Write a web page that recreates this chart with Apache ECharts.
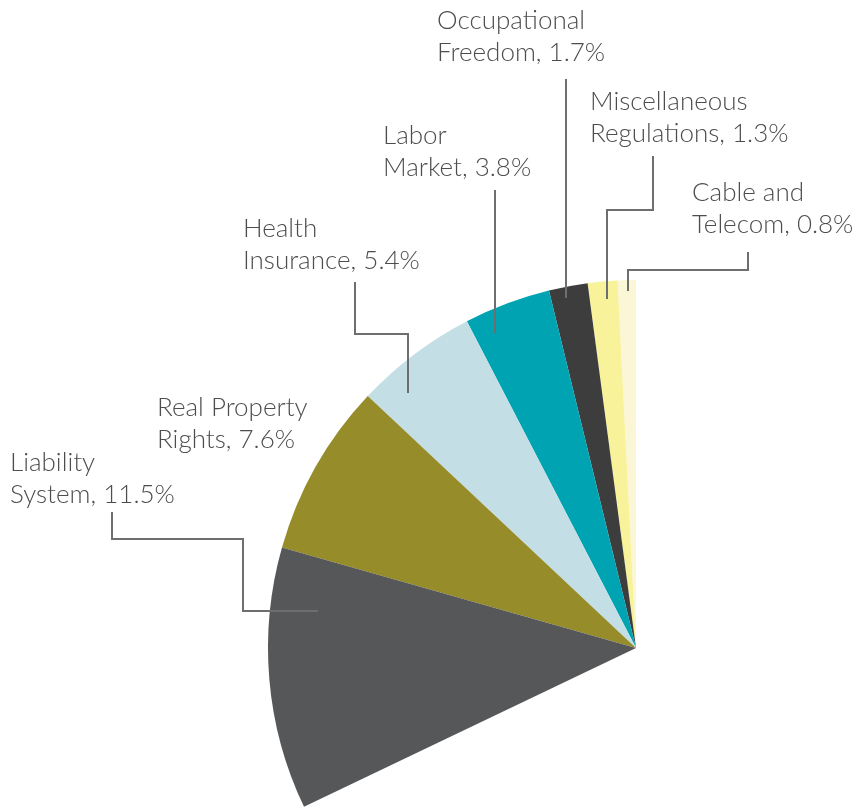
<!DOCTYPE html>
<html>
<head>
<meta charset="utf-8">
<script src="https://cdn.jsdelivr.net/npm/echarts@6/dist/echarts.min.js"></script>
<style>
html,body{margin:0;padding:0;background:#fff;}
#chart{width:866px;height:811px;}
</style>
</head>
<body>
<div id="chart"></div>
<script>
// ---- data ----
const categories = ['Cable and Telecom', 'Miscellaneous Regulations', 'Occupational Freedom', 'Labor Market', 'Health Insurance', 'Real Property Rights', 'Liability System'];
const labelLines1 = ['Cable and', 'Miscellaneous', 'Occupational', 'Labor', 'Health', 'Real Property', 'Liability'];
const labelLines2 = ['Telecom', 'Regulations', 'Freedom', 'Market', 'Insurance', 'Rights', 'System'];
const values = [0.8, 1.3, 1.7, 3.8, 5.4, 7.6, 11.5];
const colors = ['#FBF7D6', '#F8F29A', '#3D3D3E', '#00A3B1', '#C3DFE5', '#968C2A', '#555759'];

// ---- layout (label boxes and leader-line paths, pixels) ----
const labelPos = [
  [692, 177], [590, 86], [437, 5], [383, 120], [243, 213], [157, 392], [10, 447]
];
const leaderPaths = [
  [[748, 252], [748, 270], [628, 270], [628, 291]],
  [[653, 156], [653, 210], [607, 210], [607, 299]],
  [[566, 79], [566, 298]],
  [[495, 190], [495, 333]],
  [[355, 282], [355, 334], [408, 334], [408, 393]],
  null,
  [[112, 512], [112, 539], [243, 539], [243, 611], [318, 611]]
];

const total = 100;
const rest = +(total - values.reduce((a, b) => a + b, 0)).toFixed(1);

const pieData = categories.map((c, i) => ({
  name: c,
  value: values[i],
  itemStyle: { color: colors[i] },
  label: { formatter: labelLines1[i] + '\n' + labelLines2[i] + ', ' + values[i] + '%' }
}));
pieData.push({
  name: 'rest',
  value: rest,
  itemStyle: { color: 'rgba(0,0,0,0)' },
  label: { show: false },
  tooltip: { show: false },
  silent: true
});

const leaderGraphics = leaderPaths.filter(p => p).map(p => ({
  type: 'polyline',
  z: 100,
  silent: true,
  shape: { points: p },
  style: { stroke: '#6D6E70', lineWidth: 2, fill: null }
}));

const chart = echarts.init(document.getElementById('chart'), null, { renderer: 'canvas' });
chart.setOption({
  animation: false,
  graphic: leaderGraphics,
  series: [{
    type: 'pie',
    center: [636, 648],
    radius: [0, 368],
    startAngle: 90,
    clockwise: false,
    avoidLabelOverlap: false,
    emphasis: { disabled: true },
    itemStyle: { borderWidth: 0 },
    label: {
      show: true,
      position: 'outside',
      color: '#4D4D4F',
      fontFamily: 'Lato',
      fontWeight: 300,
      fontSize: 26,
      lineHeight: 32,
      align: 'left'
    },
    labelLine: { show: false },
    labelLayout: function (params) {
      const i = params.dataIndex;
      if (i >= categories.length) return {};
      return { x: labelPos[i][0], y: labelPos[i][1], align: 'left', verticalAlign: 'top' };
    },
    data: pieData
  }]
});
</script>
</body>
</html>
